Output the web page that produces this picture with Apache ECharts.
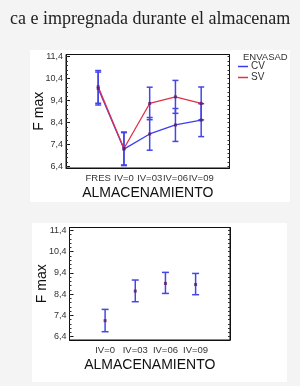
<!DOCTYPE html>
<html>
<head>
<meta charset="utf-8">
<script src="https://cdn.jsdelivr.net/npm/echarts@6/dist/echarts.min.js"></script>
<style>
html,body{margin:0;padding:0;background:#f4f4f4;}
#c{width:300px;height:386px;}
</style>
</head>
<body>
<div id="c"></div>
<script>
// ---- data ----
const titleText = 'ca e impregnada durante el almacenam';
const categoriesTop = ['FRES', 'IV=0', 'IV=03', 'IV=06', 'IV=09'];
const cvMean = [9.95, 7.19, 7.88, 8.29, 8.51];
const cvLow  = [9.20, 6.44, 7.14, 7.54, 7.76];
const cvHigh = [10.70, 7.94, 8.63, 9.04, 9.26];
const svMean = [10.03, 7.22, 9.27, 9.57, 9.27];
const svLow  = [9.28, 6.47, 8.53, 8.82, 8.52];
const svHigh = [10.77, 7.97, 10.01, 10.32, 10.02];

const categoriesBottom = ['IV=0', 'IV=03', 'IV=06', 'IV=09'];
const fMean = [7.15, 8.54, 8.90, 8.85];
const fLow  = [6.63, 8.04, 8.43, 8.37];
const fHigh = [7.68, 9.06, 9.42, 9.37];

const yTickValues = [6.4, 7.4, 8.4, 9.4, 10.4, 11.4];
const yAxisName = 'F max';
const xAxisName = 'ALMACENAMIENTO';
const legendTitle = 'ENVASADO';
const seriesNames = ['CV', 'SV'];

// ---- helpers ----
const minorTicks = [];
for (let i = 0; i < yTickValues.length - 1; i++) {
  const step = (yTickValues[i + 1] - yTickValues[i]) / 5;
  for (let k = 0; k < 5; k++) minorTicks.push(+(yTickValues[i] + k * step).toFixed(3));
}
minorTicks.push(yTickValues[yTickValues.length - 1]);

const FONT = 'Liberation Sans, Arial, sans-serif';
const BLUE = '#3d3df0';
const RED = '#e0304a';
const ERR = '#4646e8';
const PT = '#5a1a6a';
const fmt = v => v.toFixed(1).replace('.', ',');

function errData(lo, hi) { return lo.map((l, i) => [i, l, hi[i]]); }
function errRender(capW) {
  return function (params, api) {
    const x = api.value(0);
    const a = api.coord([x, api.value(1)]);
    const b = api.coord([x, api.value(2)]);
    const st = { stroke: ERR, lineWidth: 1.5 };
    return { type: 'group', children: [
      { type: 'line', shape: { x1: a[0], y1: a[1], x2: b[0], y2: b[1] }, style: st },
      { type: 'line', shape: { x1: a[0] - capW, y1: a[1], x2: a[0] + capW, y2: a[1] }, style: st },
      { type: 'line', shape: { x1: b[0] - capW, y1: b[1], x2: b[0] + capW, y2: b[1] }, style: st }
    ]};
  };
}
function yAxes(gridIndex, min, max) {
  return [
    { gridIndex, type: 'value', min, max, position: 'left',
      name: yAxisName, nameLocation: 'middle', nameGap: 20, nameRotate: 90, nameMoveOverlap: false,
      nameTextStyle: { fontFamily: FONT, fontSize: 14, color: '#111' },
      axisLine: { show: true, onZero: false, lineStyle: { color: '#111', width: 1 } },
      axisTick: { show: true, inside: true, length: 4, customValues: yTickValues, lineStyle: { color: '#111' } },
      axisLabel: { show: true, customValues: yTickValues, formatter: fmt, margin: 3,
        fontFamily: FONT, fontSize: 9, color: '#333' },
      splitLine: { show: false } },
    { gridIndex, type: 'value', min, max, position: 'left',
      axisLine: { show: false, onZero: false },
      axisTick: { show: true, inside: true, length: 2, customValues: minorTicks, lineStyle: { color: '#333' } },
      axisLabel: { show: false }, splitLine: { show: false } },
    { gridIndex, type: 'value', min, max, position: 'right',
      axisLine: { show: true, onZero: false, lineStyle: { color: '#111' } },
      axisTick: { show: true, inside: true, length: 2, customValues: minorTicks, lineStyle: { color: '#333' } },
      axisLabel: { show: false }, splitLine: { show: false } }
  ];
}
function xAxis(gridIndex, min, max, cats) {
  return { gridIndex, type: 'value', min, max,
    name: xAxisName, nameLocation: 'middle', nameGap: 18,
    nameTextStyle: { fontFamily: FONT, fontSize: 14, color: '#111' },
    axisLine: { show: true, onZero: false, lineStyle: { color: '#111' } },
    axisTick: { show: false },
    axisLabel: { customValues: cats.map((c, i) => i), formatter: v => cats[Math.round(v)],
      margin: 5, fontFamily: FONT, fontSize: 9.5, color: '#333' },
    splitLine: { show: false } };
}

const chart = echarts.init(document.getElementById('c'), null, { renderer: 'canvas' });
chart.setOption({
  backgroundColor: '#f4f4f4',
  animation: false,
  graphic: [
    { type: 'rect', shape: { x: 30, y: 50, width: 260, height: 152 }, style: { fill: '#fff' }, z: -10 },
    { type: 'rect', shape: { x: 32, y: 223, width: 255, height: 159 }, style: { fill: '#fff' }, z: -10 },
    { type: 'text', x: 10, y: 19, style: { text: titleText, fontFamily: 'Liberation Serif, Times New Roman, serif',
      fontSize: 18, fill: '#222', verticalAlign: 'middle' } },
    { type: 'text', x: 243, y: 57, style: { text: legendTitle, fontFamily: FONT, fontSize: 9.5, fill: '#333',
      verticalAlign: 'middle', width: 47, overflow: 'truncate', ellipsis: '' } }
  ],
  grid: [
    { left: 66, top: 54.5, width: 163.5, height: 113.5, show: true, borderColor: '#111', borderWidth: 1, backgroundColor: 'transparent' },
    { left: 69.5, top: 227.5, width: 160.5, height: 112.5, show: true, borderColor: '#111', borderWidth: 1, backgroundColor: 'transparent' }
  ],
  legend: {
    left: 238, top: 61, orient: 'vertical', itemWidth: 10, itemHeight: 1.5, itemGap: 0, icon: 'rect',
    padding: 0, data: seriesNames,
    textStyle: { fontFamily: FONT, fontSize: 10, color: '#333', lineHeight: 11, padding: [0, 0, 0, -2] }
  },
  xAxis: [ xAxis(0, -1.25, 5.1, categoriesTop), xAxis(1, -1.18, 4.14, categoriesBottom) ],
  yAxis: [ ...yAxes(0, 6.33, 11.5), ...yAxes(1, 6.24, 11.53) ],
  series: [
    { type: 'custom', xAxisIndex: 0, yAxisIndex: 0, renderItem: errRender(3), data: errData(cvLow, cvHigh), z: 2, encode: { x: 0, y: [1, 2] } },
    { type: 'custom', xAxisIndex: 0, yAxisIndex: 0, renderItem: errRender(3), data: errData(svLow, svHigh), z: 2, encode: { x: 0, y: [1, 2] } },
    { name: seriesNames[0], type: 'line', xAxisIndex: 0, yAxisIndex: 0, symbol: 'none', z: 3,
      data: cvMean.map((v, i) => [i, v]), lineStyle: { color: BLUE, width: 1.3 }, itemStyle: { color: BLUE } },
    { name: seriesNames[1], type: 'line', xAxisIndex: 0, yAxisIndex: 0, symbol: 'none', z: 3,
      data: svMean.map((v, i) => [i, v]), lineStyle: { color: RED, width: 1.3 }, itemStyle: { color: RED } },
    { type: 'scatter', xAxisIndex: 0, yAxisIndex: 0, symbol: 'rect', symbolSize: 3, z: 4,
      data: cvMean.map((v, i) => [i, v]).concat(svMean.map((v, i) => [i, v])), itemStyle: { color: PT } },
    { type: 'custom', xAxisIndex: 1, yAxisIndex: 3, renderItem: errRender(3.5), data: errData(fLow, fHigh), z: 2, encode: { x: 0, y: [1, 2] } },
    { type: 'scatter', xAxisIndex: 1, yAxisIndex: 3, symbol: 'rect', symbolSize: 3, z: 4,
      data: fMean.map((v, i) => [i, v]), itemStyle: { color: PT } }
  ]
});
</script>
</body>
</html>
